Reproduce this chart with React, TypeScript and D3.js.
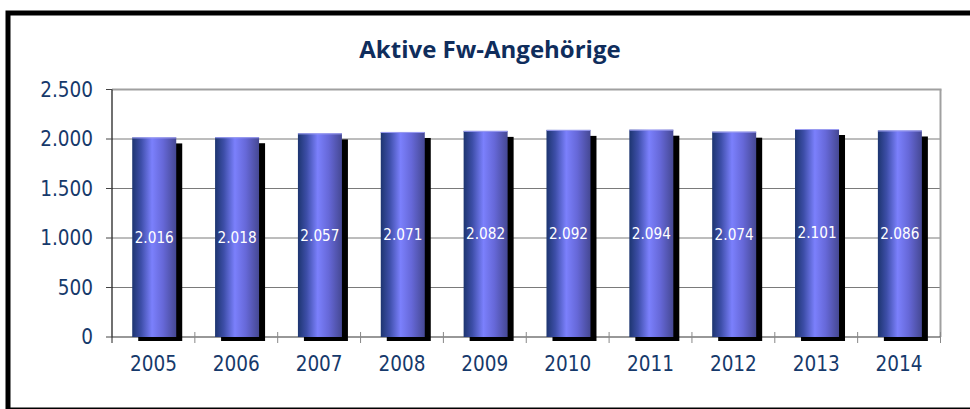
import React from "react";
import * as d3 from "d3";

const years = ["2005", "2006", "2007", "2008", "2009", "2010", "2011", "2012", "2013", "2014"];
const values = [2016, 2018, 2057, 2071, 2082, 2092, 2094, 2074, 2101, 2086];
const yTicks = [0, 500, 1000, 1500, 2000, 2500];
const title = "Aktive Fw-Angehörige";

const W = 970;
const H = 409;
const plot = { left: 112, right: 940.5, top: 89.5, bottom: 337 };

const fmt = (v: number) => {
  const s = String(v);
  return s.length > 3 ? s.slice(0, s.length - 3) + "." + s.slice(-3) : s;
};

export default function App() {
  const x = d3.scaleBand<string>().domain(years).range([plot.left, plot.right]).paddingInner(0).paddingOuter(0);
  const y = d3.scaleLinear().domain([0, 2500]).range([plot.bottom, plot.top]);
  const step = x.step();
  const barW = 44;
  const navy = "#16396b";
  const font = "'DejaVu Sans Condensed', 'DejaVu Sans', sans-serif";

  return (
    <svg width={W} height={H} style={{ position: "absolute", left: 0, top: 0 }}>
      <defs>
        <linearGradient id="barGrad" x1="0" x2="1" y1="0" y2="0">
          <stop offset="0%" stopColor="#1d3570" />
          <stop offset="20%" stopColor="#3d4ea8" />
          <stop offset="45%" stopColor="#7b80fc" />
          <stop offset="70%" stopColor="#6668d8" />
          <stop offset="100%" stopColor="#454893" />
        </linearGradient>
      </defs>
      <rect x={0} y={0} width={W} height={H} fill="#ffffff" />
      {/* outer frame */}
      <rect x={8} y={13} width={W + 20} height={397} fill="none" stroke="#000" strokeWidth={5} />
      <text
        x={490}
        y={58}
        textAnchor="middle"
        fontFamily="'Open Sans', sans-serif"
        fontWeight={700}
        fontSize={24}
        fill="#0f2d5c"
      >
        {title}
      </text>

      {/* gridlines */}
      {yTicks.filter((t) => t > 0 && t < 2500).map((t) => (
        <line key={t} x1={plot.left} x2={plot.right} y1={y(t)} y2={y(t)} stroke="#7a7a7a" strokeWidth={1} />
      ))}
      {/* plot top and right borders */}
      <line x1={plot.left} x2={plot.right + 1} y1={y(2500)} y2={y(2500)} stroke="#a0a0a0" strokeWidth={2} />
      <line x1={plot.right} x2={plot.right} y1={plot.top} y2={plot.bottom} stroke="#a0a0a0" strokeWidth={2} />

      {/* y axis */}
      <line x1={plot.left} x2={plot.left} y1={plot.top} y2={plot.bottom} stroke="#111" strokeWidth={1.2} />
      {yTicks.map((t) => (
        <g key={t}>
          <line x1={plot.left - 6} x2={plot.left} y1={y(t)} y2={y(t)} stroke="#444" strokeWidth={1} />
          <text
            x={93}
            y={y(t)}
            dy="0.36em"
            textAnchor="end"
            fontFamily={font}
            fontSize={20.5}
            fill={navy}
          >
            {fmt(t)}
          </text>
        </g>
      ))}

      {/* x axis */}
      <line x1={plot.left} x2={plot.right} y1={plot.bottom} y2={plot.bottom} stroke="#333" strokeWidth={1.2} />
      {d3.range(years.length + 1).map((i) => {
        const xx = plot.left + i * step;
        return (
          <line
            key={i}
            x1={xx}
            x2={xx}
            y1={i === 0 ? plot.bottom : plot.bottom - 5}
            y2={plot.bottom + 6}
            stroke={i === 0 ? "#222" : "#888"}
            strokeWidth={1}
          />
        );
      })}

      {/* shadows */}
      {years.map((yr, i) => {
        const cx = (x(yr) as number) + step / 2;
        const bx = cx - barW / 2 + 0.8;
        return (
          <rect
            key={"s" + yr}
            x={bx + 6}
            y={y(values[i]) + 6}
            width={barW}
            height={plot.bottom + 4 - (y(values[i]) + 6)}
            fill="#000"
          />
        );
      })}

      {/* bars */}
      {years.map((yr, i) => {
        const cx = (x(yr) as number) + step / 2;
        const bx = cx - barW / 2 + 0.8;
        const top = y(values[i]);
        return (
          <g key={"b" + yr}>
            <rect x={bx} y={top} width={barW} height={plot.bottom - top} fill="url(#barGrad)" />
            <line x1={bx} x2={bx + barW} y1={top + 0.5} y2={top + 0.5} stroke="#9a9cf0" strokeWidth={1} />
            <text
              x={bx + barW / 2}
              y={(top + plot.bottom) / 2}
              dy="0.36em"
              textAnchor="middle"
              fontFamily={font}
              fontSize={15.2}
              fill="#ffffff"
            >
              {fmt(values[i])}
            </text>
          </g>
        );
      })}

      {/* x labels */}
      {years.map((yr) => (
        <text
          key={"l" + yr}
          x={(x(yr) as number) + step / 2}
          y={371}
          textAnchor="middle"
          fontFamily={font}
          fontSize={20.5}
          fill={navy}
        >
          {yr}
        </text>
      ))}
    </svg>
  );
}
